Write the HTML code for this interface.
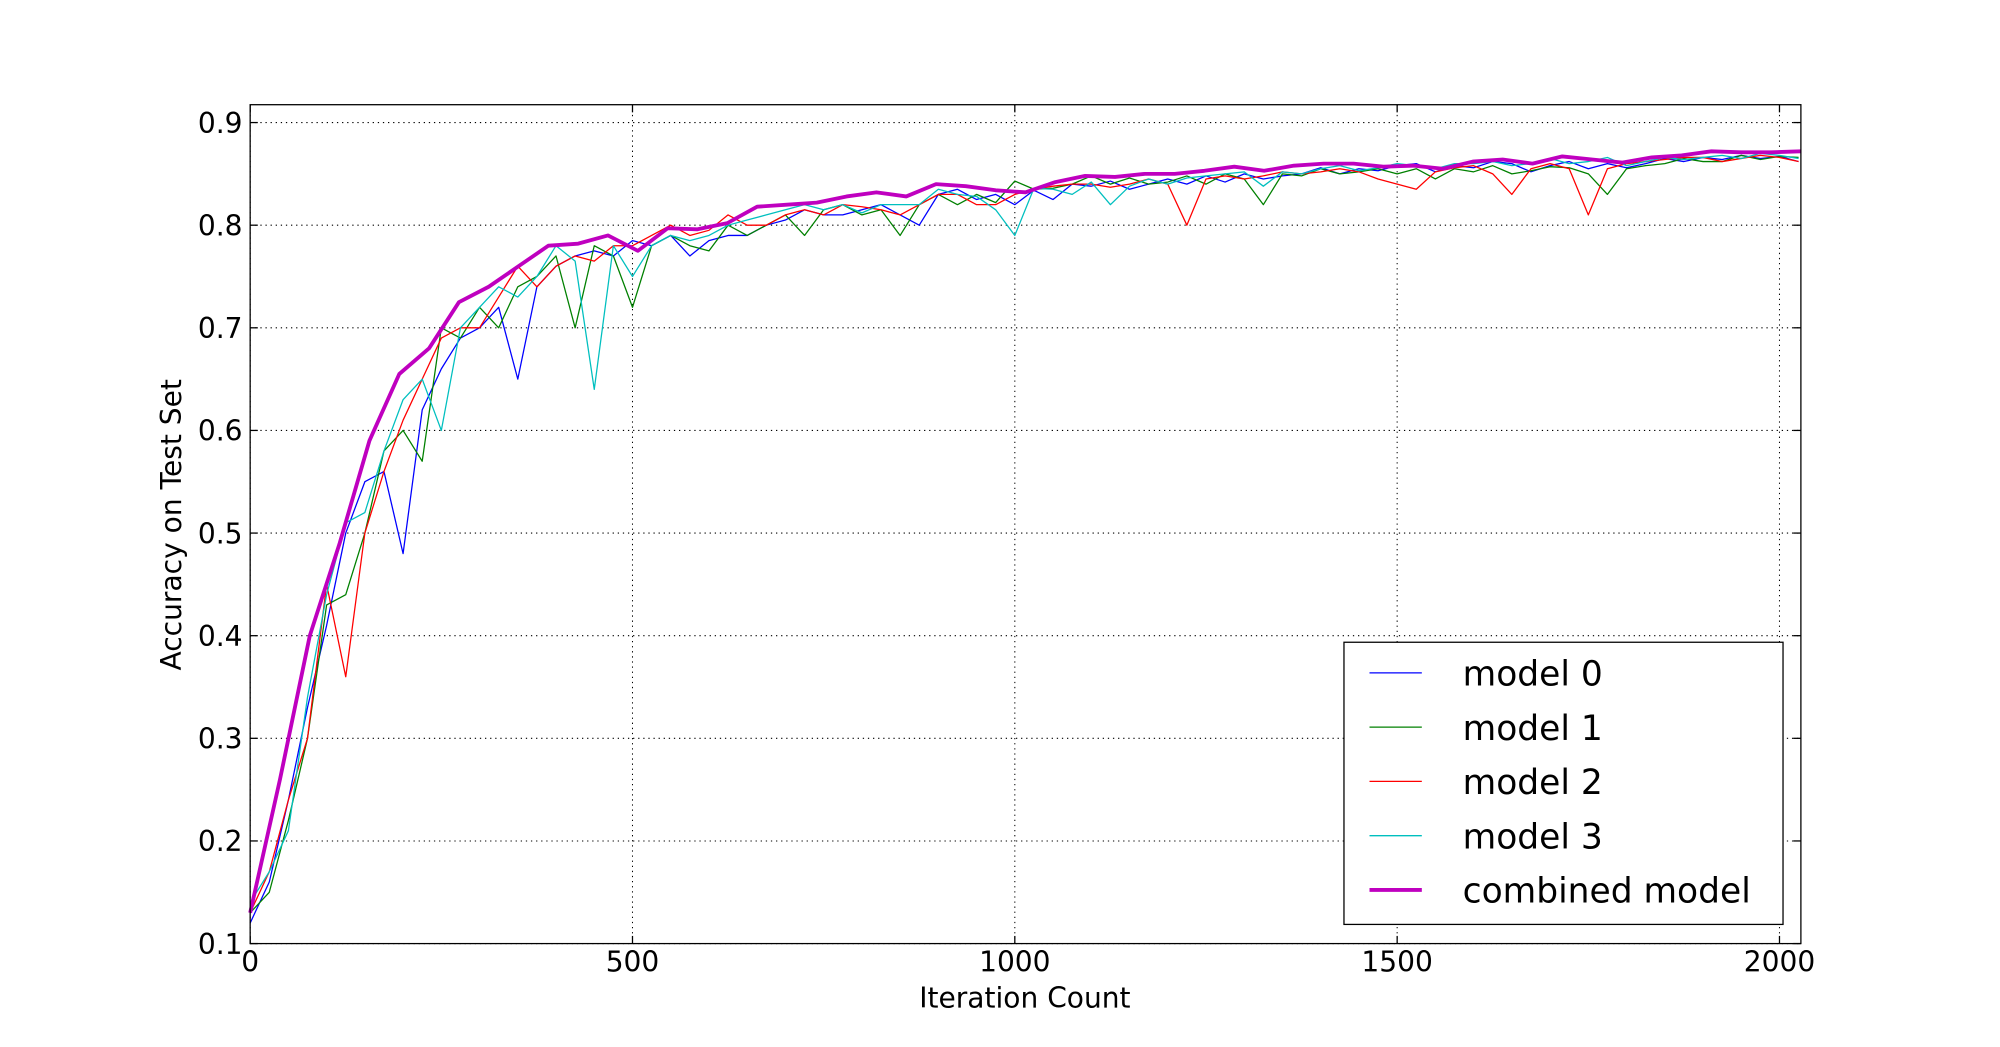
<!DOCTYPE html>
<html><head><meta charset="utf-8"><style>
html,body{margin:0;padding:0;background:#fff;}
svg{display:block;font-family:"DejaVu Sans","Liberation Sans",sans-serif;}
</style></head><body>
<svg id="chart" width="2000" height="1047" viewBox="0 0 1567 820" preserveAspectRatio="none" xmlns="http://www.w3.org/2000/svg">
<rect width="1567" height="820" fill="#fff"/>
<g id="grid"></g>
<g id="series"></g>
<rect x="196" y="82" width="1215" height="657" fill="none" stroke="#000" stroke-width="1"/>
<g id="ticks"></g>
<text x="803" y="789" font-size="22" text-anchor="middle">Iteration Count</text>
<text transform="translate(142,411) rotate(-90)" font-size="22" text-anchor="middle">Accuracy on Test Set</text>
<g id="legend">
<rect x="1053" y="503" width="344" height="221" fill="#fff" stroke="#000" stroke-width="1"/>
</g>
</svg>
<script>
const xTicks = [0, 500, 1000, 1500, 2000];
const yTicks = [0.1, 0.2, 0.3, 0.4, 0.5, 0.6, 0.7, 0.8, 0.9];
const yTickLabels = ["0.1","0.2","0.3","0.4","0.5","0.6","0.7","0.8","0.9"];
const seriesNames = ["model 0","model 1","model 2","model 3","combined model"];
const modelStep = 25;
const combinedStep = 39;
const model0 = [0.12,0.16,0.24,0.33,0.41,0.50,0.55,0.56,0.48,0.62,0.66,0.69,0.70,0.72,0.65,0.74,0.76,0.77,0.775,0.77,0.785,0.78,0.79,0.77,0.785,0.79,0.79,0.80,0.805,0.815,0.81,0.81,0.815,0.82,0.81,0.80,0.83,0.835,0.825,0.83,0.82,0.834,0.825,0.84,0.838,0.843,0.835,0.84,0.845,0.84,0.848,0.842,0.85,0.845,0.848,0.85,0.856,0.85,0.855,0.853,0.858,0.86,0.852,0.858,0.856,0.862,0.86,0.852,0.858,0.862,0.855,0.86,0.856,0.86,0.865,0.862,0.866,0.864,0.868,0.865,0.867,0.862];
const model1 = [0.13,0.15,0.22,0.30,0.43,0.44,0.50,0.58,0.60,0.57,0.70,0.69,0.72,0.70,0.74,0.75,0.77,0.70,0.78,0.77,0.72,0.78,0.79,0.78,0.775,0.80,0.79,0.80,0.81,0.79,0.815,0.82,0.81,0.815,0.79,0.82,0.83,0.82,0.83,0.822,0.843,0.835,0.836,0.84,0.848,0.84,0.846,0.84,0.842,0.848,0.84,0.85,0.845,0.82,0.85,0.848,0.855,0.85,0.852,0.855,0.85,0.855,0.845,0.855,0.852,0.858,0.85,0.853,0.857,0.856,0.85,0.83,0.855,0.858,0.86,0.865,0.862,0.862,0.868,0.864,0.867,0.866];
const model2 = [0.13,0.17,0.24,0.30,0.45,0.36,0.50,0.56,0.61,0.65,0.69,0.70,0.70,0.73,0.76,0.74,0.76,0.77,0.765,0.78,0.78,0.79,0.80,0.79,0.795,0.81,0.80,0.80,0.81,0.815,0.81,0.82,0.818,0.815,0.81,0.82,0.83,0.83,0.82,0.82,0.83,0.835,0.838,0.84,0.84,0.837,0.84,0.845,0.84,0.80,0.845,0.848,0.845,0.848,0.852,0.85,0.852,0.855,0.852,0.845,0.84,0.835,0.852,0.856,0.858,0.85,0.83,0.855,0.86,0.855,0.81,0.855,0.86,0.862,0.864,0.866,0.866,0.862,0.865,0.868,0.866,0.862];
const model3 = [0.14,0.17,0.21,0.34,0.44,0.51,0.52,0.58,0.63,0.65,0.60,0.70,0.72,0.74,0.73,0.75,0.78,0.765,0.64,0.78,0.75,0.78,0.79,0.785,0.79,0.80,0.805,0.81,0.815,0.82,0.815,0.82,0.812,0.82,0.82,0.82,0.835,0.83,0.828,0.815,0.79,0.836,0.835,0.83,0.842,0.82,0.838,0.845,0.84,0.846,0.848,0.85,0.852,0.838,0.852,0.85,0.855,0.858,0.853,0.856,0.86,0.858,0.855,0.86,0.86,0.862,0.858,0.86,0.865,0.86,0.862,0.866,0.858,0.862,0.866,0.864,0.866,0.868,0.865,0.87,0.868,0.865];
const combined = [0.13,0.26,0.40,0.49,0.59,0.655,0.68,0.725,0.74,0.76,0.78,0.782,0.79,0.775,0.797,0.796,0.802,0.818,0.82,0.822,0.828,0.832,0.828,0.84,0.838,0.834,0.832,0.842,0.848,0.847,0.85,0.85,0.853,0.857,0.853,0.858,0.86,0.86,0.857,0.858,0.855,0.862,0.864,0.86,0.867,0.864,0.861,0.866,0.868,0.872,0.871,0.871,0.872];

const L=196,R=1411,T=82,B=739, XMAX=2028, YMIN=0.1, YMAX=0.9174;
const sx = v => L + v/XMAX*(R-L);
const sy = v => B - (v-YMIN)/(YMAX-YMIN)*(B-T);
const NS="http://www.w3.org/2000/svg";
function mk(tag, attrs, parent){const e=document.createElementNS(NS,tag);for(const k in attrs)e.setAttribute(k,attrs[k]);parent.appendChild(e);return e;}
const grid=document.getElementById('grid'), ticks=document.getElementById('ticks'), series=document.getElementById('series'), legend=document.getElementById('legend');

xTicks.forEach(v=>{
  const x=sx(v);
  const g=mk('line',{x1:x,x2:x,y1:T,y2:B,stroke:'#000','stroke-width':0.8,'stroke-dasharray':'1,3'},grid);
  
  
  mk('line',{x1:x,x2:x,y1:B,y2:B-6,stroke:'#000'},ticks);
  mk('line',{x1:x,x2:x,y1:T,y2:T+6,stroke:'#000'},ticks);
  const t=mk('text',{x:x,y:B+22,'font-size':22,'text-anchor':'middle'},ticks);
  
  
  t.textContent=String(v);
});
yTicks.forEach((v,i)=>{
  const y=sy(v);
  const g=mk('line',{x1:L,x2:R,y1:y,y2:y,stroke:'#000','stroke-width':0.8,'stroke-dasharray':'1,3'},grid);
  
  
  mk('line',{x1:L,x2:L+6,y1:y,y2:y,stroke:'#000'},ticks);
  mk('line',{x1:R,x2:R-6,y1:y,y2:y,stroke:'#000'},ticks);
  const t=mk('text',{x:L-6,y:y+8,'font-size':22,'text-anchor':'end'},ticks);
  
  
  t.textContent=yTickLabels[i];
});

const colors=['#0000ff','#008000','#ff0000','#00bfbf','#bf00bf'];
const datasets=[model0,model1,model2,model3,combined];
const steps=[modelStep,modelStep,modelStep,modelStep,combinedStep];
const widths=[1,1,1,1,3];
datasets.forEach((d,k)=>{
  const pts=d.map((v,i)=>sx(Math.min(i*steps[k],XMAX)).toFixed(2)+','+sy(v).toFixed(2)).join(' ');
  const p=mk('polyline',{points:pts,fill:'none',stroke:colors[k],'stroke-width':widths[k],'stroke-linejoin':'round'},series);
  
  
});

seriesNames.forEach((n,k)=>{
  const y=527+k*42.5;
  const l=mk('line',{x1:1073,x2:1114,y1:y,y2:y,stroke:colors[k],'stroke-width':widths[k]},legend);
  
  
  const t=mk('text',{x:1146,y:y+10,'font-size':27},legend);
  
  
  t.textContent=n;
});
</script>
</body></html>
